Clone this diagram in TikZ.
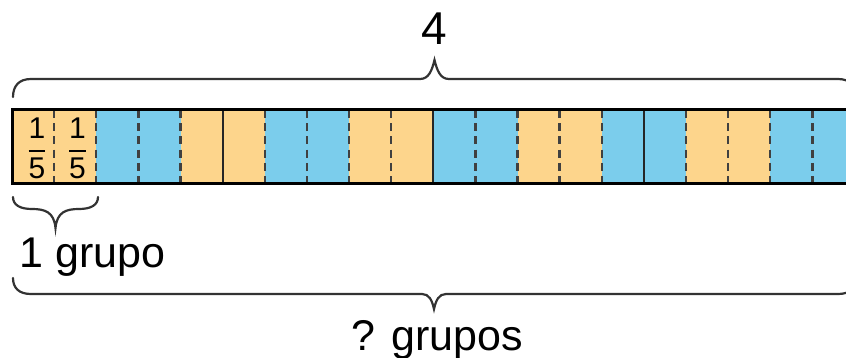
\documentclass[tikz,border=0pt]{standalone}
\usepackage{amsmath}
\usepackage{fontspec}
\setmainfont{Liberation Sans}
\definecolor{partorange}{RGB}{253,213,140}
\definecolor{partblue}{RGB}{123,205,236}

\begin{document}
\begin{tikzpicture}[
    x=.5pt,y=-.5pt,
    bar edge/.style={black,line width=1.5pt},
    whole edge/.style={black!85,line width=1.1pt},
    fifth edge/.style={black!75,line width=1.2pt,dash pattern=on 4pt off 2.6pt},
    brace line/.style={black!80,line width=1.1pt,line cap=round},
    label text/.style={font=\fontsize{21.5}{24}\selectfont,inner sep=0pt},
    frac text/.style={font=\fontsize{15}{16}\selectfont,inner sep=0pt}
  ]
    \useasboundingbox (0,0) rectangle (846,358);

    % Bar corners; the bar runs on past the right edge of the page.
    \coordinate (NW) at (12,110);
    \coordinate (SW) at (12,183);
    \coordinate (NE) at (854.5,110);
    \coordinate (SE) at (854.5,183);

    % Twenty fifths, two orange and two blue in turn.
    \foreach \k in {0,...,19} {
      \pgfmathtruncatemacro{\pair}{mod(floor(\k/2),2)}
      \ifnum\pair=0 \def\tint{partorange}\else\def\tint{partblue}\fi
      \fill[\tint] (12+42.125*\k,110) rectangle (54.125+42.125*\k,183);
    }

    % Fifths are dashed, the four wholes are solid.
    \foreach \k in {1,...,19} {
      \pgfmathtruncatemacro{\whole}{mod(\k,5)}
      \ifnum\whole=0
        \draw[whole edge] (12+42.125*\k,110) -- (12+42.125*\k,183);
      \else
        \draw[fifth edge] (12+42.125*\k,110) -- (12+42.125*\k,183);
      \fi
    }
    \draw[bar edge] (NE) -- (NW) -- (SW) -- (SE);

    \node[frac text] (f1) at (37,148.5) {$\genfrac{}{}{1pt}{0}{\text{1}}{\text{5}}$};
    \node[frac text] (f2) at (77.5,148.5) {$\genfrac{}{}{1pt}{0}{\text{1}}{\text{5}}$};

    % Brace over the whole bar.
    \draw[brace line] (13,97) .. controls (13,86) and (19,79) .. (31,79)
      -- (420,79) .. controls (429,79) and (432,70) .. (434.5,60)
      .. controls (437,70) and (440,79) .. (449,79)
      -- (838,79) .. controls (850,79) and (856,86) .. (856,97);
    \node[label text,font=\fontsize{23}{26}\selectfont,anchor=base] (total) at (434,45) {4};

    % Brace under the first two fifths.
    \draw[brace line] (13,197) .. controls (13,205) and (20,209) .. (32,209)
      .. controls (45,209) and (54,212) .. (55.5,228)
      .. controls (57,212) and (66,209) .. (79,209)
      .. controls (91,209) and (98,205) .. (98,197);
    \node[label text,anchor=base west] (onegroup) at (19,267) {1 grupo};

    % Brace under everything.
    \draw[brace line] (13,278) .. controls (13,288) and (19,294) .. (31,294)
      -- (422,294) .. controls (429,294) and (432,300) .. (434,309)
      .. controls (436,300) and (439,294) .. (446,294)
      -- (838,294) .. controls (850,294) and (856,288) .. (856,278);
    \node[label text,anchor=base] (groups) at (437.5,350) {? grupos};
  \end{tikzpicture}
\end{document}
